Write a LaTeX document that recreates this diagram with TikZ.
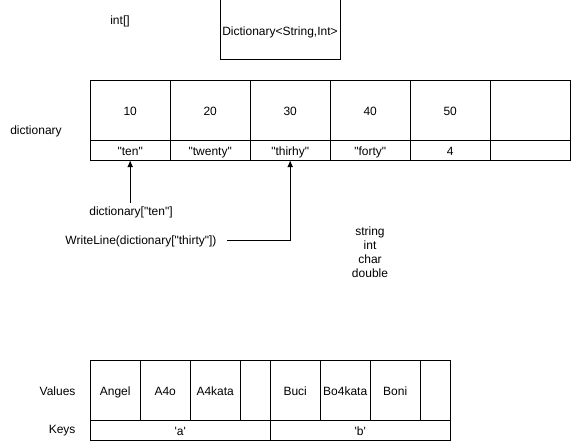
\documentclass[tikz,border=0pt]{standalone}
\usepackage{fontspec}
\setmainfont{Liberation Sans}[Ligatures=TeXOff]
\usepackage{tikz}
\usetikzlibrary{matrix}
\usetikzlibrary{arrows.meta}
\usetikzlibrary{positioning}
\tikzset{
  Feld/.style={draw, line width=1pt, inner sep=1pt, outer sep=0pt,
    minimum width=#1, text height=10.5pt, text depth=0pt}, % für Felder
  Feld/.default=80pt,
  Pfeil/.style={line width=1pt,->} % für Pfeile
}

\begin{document}
\begin{tikzpicture}[
x=1pt, y=-1pt,
font=\fontsize{12}{14}\selectfont,
>={Latex[length=7pt,width=6pt]} % Pfeilspitzen
]
\useasboundingbox (0,0) rectangle (571,441);

%Felder
\matrix (D) [
  matrix of nodes, nodes in empty cells,
  anchor=north west, inner sep=0pt,
  column sep=-1pt, row sep=-1pt,
  nodes={Feld},
  row 1/.style={nodes={minimum height=60pt}},
  row 2/.style={nodes={minimum height=20pt}}
  ] at (89.5,79.5)
{
  10 & 20 & 30 & 40 & 50 & \\
  "ten" & "twenty" & "thirhy" & "forty" & 4 & \\
};

\matrix (V) [
  matrix of nodes, nodes in empty cells,
  anchor=north west, inner sep=0pt,
  column sep=-1pt,
  nodes={Feld=50pt, minimum height=60pt},
  column 4/.style={nodes={minimum width=30pt}},
  column 8/.style={nodes={minimum width=30pt}}
  ] at (89.5,359.5)
{
  Angel & A4o & A4kata & & Buci & Bo4kata & Boni & \\
};

\node[Feld=180pt, minimum height=20pt, anchor=north west] (Ka) at (V-1-1.south west) {\textquotesingle a\textquotesingle};
\node[Feld=180pt, minimum height=20pt, anchor=north west] (Kb) at (Ka.north east) {\textquotesingle b\textquotesingle};

\node[Feld=120pt, minimum height=60pt] (Typ) at (280,30) {Dictionary<String,Int>};

%Beschriftungen
\node (IntArr) at (120,21) {int[]};
\node (Dname) at (36,131) {dictionary};
\node[anchor=east] (Vname) at (79,391) {Values};
\node[anchor=east] (Kname) at (79,431) {Keys};
\node (Lten) at (131,212) {dictionary["ten"]};
\node (Lwrite) at (141,241) {WriteLine(dictionary["thirty"])};
\node[align=center] (Typen) at (370,252) {string\\int\\char\\double};

%Pfeile
\draw[Pfeil] (D-2-1.south |- Lten.north) -- (D-2-1.south);
\draw[Pfeil] ([xshift=7pt]Lwrite.east) -| (D-2-3.south);

\end{tikzpicture}
\end{document}
